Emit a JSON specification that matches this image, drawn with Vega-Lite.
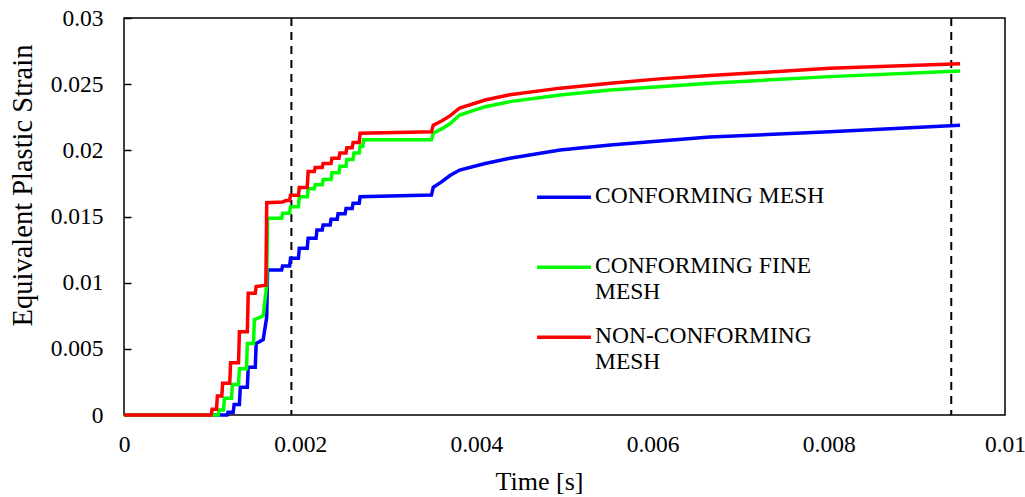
{
  "$schema": "https://vega.github.io/schema/vega-lite/v6.json",
  "width": 881,
  "height": 397,
  "autosize": {"type": "none"},
  "padding": {"left": 124, "top": 18, "right": 20, "bottom": 82},
  "background": "white",
  "config": {"view": {"stroke": "black", "strokeWidth": 1.5}, "font": "Liberation Serif"},
  "datasets": {
    "marks": [{"t": 0.0019}, {"t": 0.00939}],
    "curves": [
      {"series": "CONFORMING MESH", "t": 0, "s": 0},
      {"series": "CONFORMING MESH", "t": 0.00117, "s": 0},
      {"series": "CONFORMING MESH", "t": 0.00118, "s": 0.0002},
      {"series": "CONFORMING MESH", "t": 0.00124, "s": 0.0002},
      {"series": "CONFORMING MESH", "t": 0.00125, "s": 0.0008},
      {"series": "CONFORMING MESH", "t": 0.00131, "s": 0.0008},
      {"series": "CONFORMING MESH", "t": 0.00132, "s": 0.0021},
      {"series": "CONFORMING MESH", "t": 0.0014, "s": 0.0021},
      {"series": "CONFORMING MESH", "t": 0.00141, "s": 0.0036},
      {"series": "CONFORMING MESH", "t": 0.00149, "s": 0.0036},
      {"series": "CONFORMING MESH", "t": 0.0015, "s": 0.0054},
      {"series": "CONFORMING MESH", "t": 0.00158, "s": 0.0057},
      {"series": "CONFORMING MESH", "t": 0.00162, "s": 0.0074},
      {"series": "CONFORMING MESH", "t": 0.00163, "s": 0.01096},
      {"series": "CONFORMING MESH", "t": 0.00179, "s": 0.01096},
      {"series": "CONFORMING MESH", "t": 0.0018, "s": 0.01126},
      {"series": "CONFORMING MESH", "t": 0.00188, "s": 0.01126},
      {"series": "CONFORMING MESH", "t": 0.00189, "s": 0.01184},
      {"series": "CONFORMING MESH", "t": 0.00198, "s": 0.01184},
      {"series": "CONFORMING MESH", "t": 0.00199, "s": 0.0126},
      {"series": "CONFORMING MESH", "t": 0.00208, "s": 0.0126},
      {"series": "CONFORMING MESH", "t": 0.00209, "s": 0.01335},
      {"series": "CONFORMING MESH", "t": 0.00218, "s": 0.01335},
      {"series": "CONFORMING MESH", "t": 0.00219, "s": 0.01398},
      {"series": "CONFORMING MESH", "t": 0.00225, "s": 0.01398},
      {"series": "CONFORMING MESH", "t": 0.00226, "s": 0.01436},
      {"series": "CONFORMING MESH", "t": 0.00234, "s": 0.01436},
      {"series": "CONFORMING MESH", "t": 0.00235, "s": 0.0148},
      {"series": "CONFORMING MESH", "t": 0.00242, "s": 0.0148},
      {"series": "CONFORMING MESH", "t": 0.00243, "s": 0.0152},
      {"series": "CONFORMING MESH", "t": 0.00251, "s": 0.0152},
      {"series": "CONFORMING MESH", "t": 0.00252, "s": 0.0156},
      {"series": "CONFORMING MESH", "t": 0.00259, "s": 0.0156},
      {"series": "CONFORMING MESH", "t": 0.0026, "s": 0.016},
      {"series": "CONFORMING MESH", "t": 0.00267, "s": 0.016},
      {"series": "CONFORMING MESH", "t": 0.00268, "s": 0.0165},
      {"series": "CONFORMING MESH", "t": 0.00349, "s": 0.01662},
      {"series": "CONFORMING MESH", "t": 0.00351, "s": 0.0172},
      {"series": "CONFORMING MESH", "t": 0.0036, "s": 0.0176},
      {"series": "CONFORMING MESH", "t": 0.0037, "s": 0.0181},
      {"series": "CONFORMING MESH", "t": 0.00381, "s": 0.01851},
      {"series": "CONFORMING MESH", "t": 0.0041, "s": 0.019},
      {"series": "CONFORMING MESH", "t": 0.00438, "s": 0.0194},
      {"series": "CONFORMING MESH", "t": 0.00495, "s": 0.02003},
      {"series": "CONFORMING MESH", "t": 0.00552, "s": 0.0204},
      {"series": "CONFORMING MESH", "t": 0.00608, "s": 0.0207},
      {"series": "CONFORMING MESH", "t": 0.00665, "s": 0.021},
      {"series": "CONFORMING MESH", "t": 0.00801, "s": 0.0214},
      {"series": "CONFORMING MESH", "t": 0.00949, "s": 0.0219},

      {"series": "CONFORMING FINE MESH", "t": 0, "s": 0},
      {"series": "CONFORMING FINE MESH", "t": 0.00107, "s": 0},
      {"series": "CONFORMING FINE MESH", "t": 0.00108, "s": 0.00038},
      {"series": "CONFORMING FINE MESH", "t": 0.00113, "s": 0.00038},
      {"series": "CONFORMING FINE MESH", "t": 0.00114, "s": 0.00126},
      {"series": "CONFORMING FINE MESH", "t": 0.00122, "s": 0.00126},
      {"series": "CONFORMING FINE MESH", "t": 0.00123, "s": 0.0023},
      {"series": "CONFORMING FINE MESH", "t": 0.0013, "s": 0.0023},
      {"series": "CONFORMING FINE MESH", "t": 0.00131, "s": 0.0035},
      {"series": "CONFORMING FINE MESH", "t": 0.00139, "s": 0.0035},
      {"series": "CONFORMING FINE MESH", "t": 0.0014, "s": 0.0054},
      {"series": "CONFORMING FINE MESH", "t": 0.00147, "s": 0.0054},
      {"series": "CONFORMING FINE MESH", "t": 0.00148, "s": 0.0072},
      {"series": "CONFORMING FINE MESH", "t": 0.00158, "s": 0.0075},
      {"series": "CONFORMING FINE MESH", "t": 0.00162, "s": 0.0098},
      {"series": "CONFORMING FINE MESH", "t": 0.00163, "s": 0.01487},
      {"series": "CONFORMING FINE MESH", "t": 0.00179, "s": 0.01487},
      {"series": "CONFORMING FINE MESH", "t": 0.0018, "s": 0.01524},
      {"series": "CONFORMING FINE MESH", "t": 0.00188, "s": 0.01524},
      {"series": "CONFORMING FINE MESH", "t": 0.00189, "s": 0.01574},
      {"series": "CONFORMING FINE MESH", "t": 0.00198, "s": 0.01574},
      {"series": "CONFORMING FINE MESH", "t": 0.00199, "s": 0.0165},
      {"series": "CONFORMING FINE MESH", "t": 0.00208, "s": 0.0165},
      {"series": "CONFORMING FINE MESH", "t": 0.00209, "s": 0.0171},
      {"series": "CONFORMING FINE MESH", "t": 0.00216, "s": 0.0171},
      {"series": "CONFORMING FINE MESH", "t": 0.00217, "s": 0.0174},
      {"series": "CONFORMING FINE MESH", "t": 0.00225, "s": 0.0174},
      {"series": "CONFORMING FINE MESH", "t": 0.00226, "s": 0.0178},
      {"series": "CONFORMING FINE MESH", "t": 0.00235, "s": 0.0178},
      {"series": "CONFORMING FINE MESH", "t": 0.00236, "s": 0.0183},
      {"series": "CONFORMING FINE MESH", "t": 0.00244, "s": 0.0183},
      {"series": "CONFORMING FINE MESH", "t": 0.00245, "s": 0.0188},
      {"series": "CONFORMING FINE MESH", "t": 0.00252, "s": 0.0188},
      {"series": "CONFORMING FINE MESH", "t": 0.00253, "s": 0.0193},
      {"series": "CONFORMING FINE MESH", "t": 0.0026, "s": 0.0193},
      {"series": "CONFORMING FINE MESH", "t": 0.00261, "s": 0.0198},
      {"series": "CONFORMING FINE MESH", "t": 0.00267, "s": 0.0198},
      {"series": "CONFORMING FINE MESH", "t": 0.00268, "s": 0.0203},
      {"series": "CONFORMING FINE MESH", "t": 0.00271, "s": 0.0203},
      {"series": "CONFORMING FINE MESH", "t": 0.00272, "s": 0.0208},
      {"series": "CONFORMING FINE MESH", "t": 0.00349, "s": 0.0208},
      {"series": "CONFORMING FINE MESH", "t": 0.00351, "s": 0.0213},
      {"series": "CONFORMING FINE MESH", "t": 0.0036, "s": 0.0216},
      {"series": "CONFORMING FINE MESH", "t": 0.0037, "s": 0.022},
      {"series": "CONFORMING FINE MESH", "t": 0.00381, "s": 0.02267},
      {"series": "CONFORMING FINE MESH", "t": 0.0041, "s": 0.0233},
      {"series": "CONFORMING FINE MESH", "t": 0.00438, "s": 0.02368},
      {"series": "CONFORMING FINE MESH", "t": 0.00495, "s": 0.02418},
      {"series": "CONFORMING FINE MESH", "t": 0.00552, "s": 0.02456},
      {"series": "CONFORMING FINE MESH", "t": 0.00608, "s": 0.0248},
      {"series": "CONFORMING FINE MESH", "t": 0.00665, "s": 0.02507},
      {"series": "CONFORMING FINE MESH", "t": 0.00801, "s": 0.02557},
      {"series": "CONFORMING FINE MESH", "t": 0.00949, "s": 0.026},

      {"series": "NON-CONFORMING MESH", "t": 0, "s": 0},
      {"series": "NON-CONFORMING MESH", "t": 0.00099, "s": 0},
      {"series": "NON-CONFORMING MESH", "t": 0.001, "s": 0.00043},
      {"series": "NON-CONFORMING MESH", "t": 0.00105, "s": 0.00043},
      {"series": "NON-CONFORMING MESH", "t": 0.00106, "s": 0.00144},
      {"series": "NON-CONFORMING MESH", "t": 0.00111, "s": 0.00144},
      {"series": "NON-CONFORMING MESH", "t": 0.00112, "s": 0.0024},
      {"series": "NON-CONFORMING MESH", "t": 0.0012, "s": 0.0024},
      {"series": "NON-CONFORMING MESH", "t": 0.00121, "s": 0.00395},
      {"series": "NON-CONFORMING MESH", "t": 0.0013, "s": 0.00395},
      {"series": "NON-CONFORMING MESH", "t": 0.00131, "s": 0.0063},
      {"series": "NON-CONFORMING MESH", "t": 0.0014, "s": 0.0063},
      {"series": "NON-CONFORMING MESH", "t": 0.00141, "s": 0.0092},
      {"series": "NON-CONFORMING MESH", "t": 0.00149, "s": 0.0092},
      {"series": "NON-CONFORMING MESH", "t": 0.0015, "s": 0.0097},
      {"series": "NON-CONFORMING MESH", "t": 0.00161, "s": 0.0098},
      {"series": "NON-CONFORMING MESH", "t": 0.00162, "s": 0.01604},
      {"series": "NON-CONFORMING MESH", "t": 0.0018, "s": 0.0161},
      {"series": "NON-CONFORMING MESH", "t": 0.00184, "s": 0.0162},
      {"series": "NON-CONFORMING MESH", "t": 0.00188, "s": 0.0162},
      {"series": "NON-CONFORMING MESH", "t": 0.00189, "s": 0.0166},
      {"series": "NON-CONFORMING MESH", "t": 0.00198, "s": 0.0166},
      {"series": "NON-CONFORMING MESH", "t": 0.00199, "s": 0.0172},
      {"series": "NON-CONFORMING MESH", "t": 0.00208, "s": 0.0172},
      {"series": "NON-CONFORMING MESH", "t": 0.00209, "s": 0.0184},
      {"series": "NON-CONFORMING MESH", "t": 0.00216, "s": 0.0184},
      {"series": "NON-CONFORMING MESH", "t": 0.00217, "s": 0.0187},
      {"series": "NON-CONFORMING MESH", "t": 0.00225, "s": 0.0187},
      {"series": "NON-CONFORMING MESH", "t": 0.00226, "s": 0.019},
      {"series": "NON-CONFORMING MESH", "t": 0.00235, "s": 0.019},
      {"series": "NON-CONFORMING MESH", "t": 0.00236, "s": 0.0194},
      {"series": "NON-CONFORMING MESH", "t": 0.00244, "s": 0.0194},
      {"series": "NON-CONFORMING MESH", "t": 0.00245, "s": 0.0198},
      {"series": "NON-CONFORMING MESH", "t": 0.00252, "s": 0.0198},
      {"series": "NON-CONFORMING MESH", "t": 0.00253, "s": 0.0202},
      {"series": "NON-CONFORMING MESH", "t": 0.00259, "s": 0.0202},
      {"series": "NON-CONFORMING MESH", "t": 0.0026, "s": 0.0206},
      {"series": "NON-CONFORMING MESH", "t": 0.00267, "s": 0.0206},
      {"series": "NON-CONFORMING MESH", "t": 0.00268, "s": 0.0213},
      {"series": "NON-CONFORMING MESH", "t": 0.00349, "s": 0.0214},
      {"series": "NON-CONFORMING MESH", "t": 0.00351, "s": 0.0219},
      {"series": "NON-CONFORMING MESH", "t": 0.0036, "s": 0.0222},
      {"series": "NON-CONFORMING MESH", "t": 0.0037, "s": 0.0226},
      {"series": "NON-CONFORMING MESH", "t": 0.00381, "s": 0.0232},
      {"series": "NON-CONFORMING MESH", "t": 0.0041, "s": 0.0238},
      {"series": "NON-CONFORMING MESH", "t": 0.00438, "s": 0.0242},
      {"series": "NON-CONFORMING MESH", "t": 0.00495, "s": 0.0247},
      {"series": "NON-CONFORMING MESH", "t": 0.00552, "s": 0.02507},
      {"series": "NON-CONFORMING MESH", "t": 0.00608, "s": 0.0254},
      {"series": "NON-CONFORMING MESH", "t": 0.00665, "s": 0.02565},
      {"series": "NON-CONFORMING MESH", "t": 0.00801, "s": 0.0262},
      {"series": "NON-CONFORMING MESH", "t": 0.00949, "s": 0.02655}
    ]
  },
  "encoding": {
    "x": {
      "field": "t",
      "type": "quantitative",
      "scale": {"domain": [0, 0.01], "nice": false, "zero": false},
      "axis": {
        "values": [0, 0.002, 0.004, 0.006, 0.008, 0.01],
        "format": "~g",
        "title": "Time [s]",
        "titleFont": "Liberation Serif",
        "titleFontSize": 26,
        "titleFontWeight": "normal",
        "titleColor": "black",
        "titleX": 415,
        "titleY": 66,
        "titleBaseline": "middle",
        "titleAlign": "center",
        "labelFont": "Liberation Serif",
        "labelFontSize": 23.5,
        "labelColor": "black",
        "labelPadding": 17,
        "labelFlush": false,
        "ticks": false,
        "domain": false,
        "grid": false
      }
    }
  },
  "layer": [
    {
      "data": {"name": "marks"},
      "mark": {"type": "rule", "stroke": "black", "strokeWidth": 2, "strokeDash": [8, 6]}
    },
    {
      "data": {"name": "curves"},
      "mark": {"type": "line", "strokeWidth": 3.5, "strokeJoin": "miter"},
      "encoding": {
        "y": {
          "field": "s",
          "type": "quantitative",
          "scale": {"domain": [0, 0.03], "nice": false},
          "axis": {
            "values": [0, 0.005, 0.01, 0.015, 0.02, 0.025, 0.03],
            "format": "~g",
            "title": "Equivalent Plastic Strain",
            "titleFont": "Liberation Serif",
            "titleFontSize": 28.5,
            "titleFontWeight": "normal",
            "titleColor": "black",
            "titleX": -109,
            "titleY": 167,
            "titleAngle": -90,
            "titleBaseline": "middle",
            "titleAlign": "center",
            "labelFont": "Liberation Serif",
            "labelFontSize": 23.5,
            "labelColor": "black",
            "labelPadding": 21,
            "offset": -7,
            "ticks": true,
            "tickSize": 7,
            "tickColor": "black",
            "tickWidth": 1.5,
            "domain": false,
            "grid": false
          }
        },
        "color": {
          "field": "series",
          "type": "nominal",
          "scale": {
            "domain": ["CONFORMING MESH", "CONFORMING FINE MESH", "NON-CONFORMING MESH"],
            "range": ["#0000ff", "#00ff00", "#ff0000"]
          },
          "legend": {
            "title": null,
            "orient": "none",
            "legendX": 411,
            "legendY": 149,
            "symbolType": "M-1,0.05H1",
            "symbolSize": 2900,
            "symbolStrokeWidth": 3.5,
            "symbolFillColor": "transparent",
            "labelFont": "Liberation Serif",
            "labelFontSize": 23.5,
            "labelColor": "black",
            "labelLimit": 400,
            "labelOffset": 2,
            "rowPadding": 4,
            "labelExpr": "datum.label == 'CONFORMING FINE MESH' ? ['CONFORMING FINE', 'MESH'] : datum.label == 'NON-CONFORMING MESH' ? ['NON-CONFORMING', 'MESH'] : ['CONFORMING MESH', '']"
          }
        }
      }
    }
  ]
}
